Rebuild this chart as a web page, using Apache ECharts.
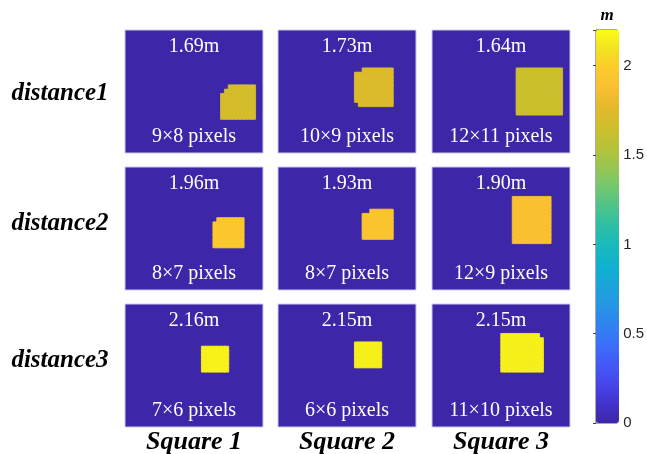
<!DOCTYPE html>
<html>
<head>
<meta charset="utf-8">
<script src="https://cdn.jsdelivr.net/npm/echarts@6/dist/echarts.min.js"></script>
<style>
  html, body { margin: 0; padding: 0; background: #fff; }
  #chart { width: 647px; height: 454px; }
</style>
</head>
<body>
<div id="chart"></div>
<script>
// values
const rowLabels = ["distance1", "distance2", "distance3"];
const colLabels = ["Square 1", "Square 2", "Square 3"];
const distances = [
  [1.69, 1.73, 1.64],
  [1.96, 1.93, 1.90],
  [2.16, 2.15, 2.15]
];
const pixelLabels = [
  ["9×8 pixels", "10×9 pixels", "12×11 pixels"],
  ["8×7 pixels", "8×7 pixels", "12×9 pixels"],
  ["7×6 pixels", "6×6 pixels", "11×10 pixels"]
];
// square blocks per panel (row-major): [rowStart, rowEnd, colStart, colEnd]
const squareBlocks = [
  [[13, 13, 27, 33], [14, 14, 26, 33], [15, 20, 25, 33]],
  [[9, 9, 22, 29], [10, 16, 20, 29], [17, 17, 21, 29]],
  [[9, 19, 22, 33]],
  [[12, 12, 24, 30], [13, 18, 23, 30]],
  [[10, 10, 24, 29], [11, 16, 22, 29]],
  [[7, 17, 21, 30]],
  [[10, 15, 20, 26]],
  [[9, 14, 20, 26]],
  [[7, 7, 18, 27], [8, 15, 18, 28]]
];
const colorbarTicks = [0, 0.5, 1, 1.5, 2];
const colorbarMax = 2.2;
const unitLabel = "m";

// parula-like colormap
const parula = [
  "#3E26A8", "#4233CC", "#4746EB", "#435AF6", "#3B6FF9", "#3083EF", "#2796E4",
  "#1AA4DA", "#0FB1CF", "#19B9BC", "#2DBEA6", "#4CC38A", "#73C86E", "#97C653",
  "#B6C23A", "#CDBF2C", "#E2BA2C", "#F8BE32", "#FCCA2D", "#F3E222", "#F9FB15"
];

const nCols = 36, nRows = 29;
const panelLefts = [125, 278, 432];
const panelTops = [30, 167, 304];
const panelW = 138, panelH = 123;
const rowLabelY = [94, 224, 361];

const colCats = [];
for (let i = 0; i < nCols; i++) colCats.push(i);
const rowCats = [];
for (let i = 0; i < nRows; i++) rowCats.push(i);

const grids = [], xAxes = [], yAxes = [], series = [], graphics = [];
const serif = "Liberation Serif";

for (let r = 0; r < 3; r++) {
  for (let c = 0; c < 3; c++) {
    const k = r * 3 + c;
    const v = distances[r][c];
    grids.push({
      left: panelLefts[c], top: panelTops[r], width: panelW, height: panelH,
      show: true, backgroundColor: parula[0],
      borderColor: "#cdc8ec", borderWidth: 1
    });
    xAxes.push({ gridIndex: k, type: "category", data: colCats, show: false });
    yAxes.push({ gridIndex: k, type: "category", data: rowCats, inverse: true, show: false });

    const cells = [];
    squareBlocks[k].forEach(b => {
      for (let y = b[0]; y <= b[1]; y++)
        for (let x = b[2]; x <= b[3]; x++)
          cells.push([x, y, v]);
    });
    series.push({
      type: "heatmap", xAxisIndex: k, yAxisIndex: k, data: cells,
      // stroke in the same colour so neighbouring cells show no seams
      itemStyle: { borderWidth: 0.8, borderColor: echarts.color.lerp(v / colorbarMax, parula) },
      emphasis: { disabled: true }, silent: true, progressive: 0
    });

    const cx = panelLefts[c] + panelW / 2;
    graphics.push({
      type: "text", x: cx, y: panelTops[r] + 17,
      style: { text: v.toFixed(2) + "m", fill: "#fff",
        font: "20px " + serif, textAlign: "center", textVerticalAlign: "middle" }
    });
    graphics.push({
      type: "text", x: cx, y: panelTops[r] + 107,
      style: { text: pixelLabels[r][c], fill: "#fff",
        font: "20px " + serif, textAlign: "center", textVerticalAlign: "middle" }
    });
  }
}

rowLabels.forEach((t, r) => {
  graphics.push({
    type: "text", x: 60, y: rowLabelY[r],
    style: { text: t, fill: "#000", font: "italic bold 25px " + serif,
      textAlign: "center", textVerticalAlign: "middle" }
  });
});
colLabels.forEach((t, c) => {
  graphics.push({
    type: "text", x: panelLefts[c] + panelW / 2, y: 442,
    style: { text: t, fill: "#000", font: "italic bold 26px " + serif,
      textAlign: "center", textVerticalAlign: "middle" }
  });
});
graphics.push({
  type: "text", x: 607, y: 16,
  style: { text: unitLabel, fill: "#000", font: "italic bold 17px " + serif,
    textAlign: "center", textVerticalAlign: "middle" }
});

// colorbar axis overlay
const cbTop = 30, cbHeight = 393;
grids.push({
  left: 596, top: cbTop, width: 23, height: cbHeight,
  show: true, backgroundColor: "transparent", borderColor: "#555", borderWidth: 1
});
xAxes.push({ gridIndex: 9, type: "value", show: false, min: 0, max: 1 });
yAxes.push({
  gridIndex: 9, type: "value", position: "right", min: 0, max: colorbarMax, interval: 0.5,
  axisLine: { show: false }, splitLine: { show: false },
  axisTick: { show: true, inside: true, length: 3, lineStyle: { color: "#444" } },
  axisLabel: {
    color: "#262626", fontFamily: "Liberation Sans", fontSize: 15, margin: 6,
    formatter: val => colorbarTicks.indexOf(val) >= 0 ? String(val) : ""
  }
});

const chart = echarts.init(document.getElementById("chart"));
chart.setOption({
  animation: false,
  grid: grids,
  xAxis: xAxes,
  yAxis: yAxes,
  visualMap: {
    type: "continuous", min: 0, max: colorbarMax, calculable: false,
    seriesIndex: [0, 1, 2, 3, 4, 5, 6, 7, 8],
    orient: "vertical", left: 596, top: cbTop, padding: 0,
    itemWidth: 23, itemHeight: cbHeight, text: null,
    inRange: { color: parula }
  },
  graphic: graphics,
  series: series
});
</script>
</body>
</html>
